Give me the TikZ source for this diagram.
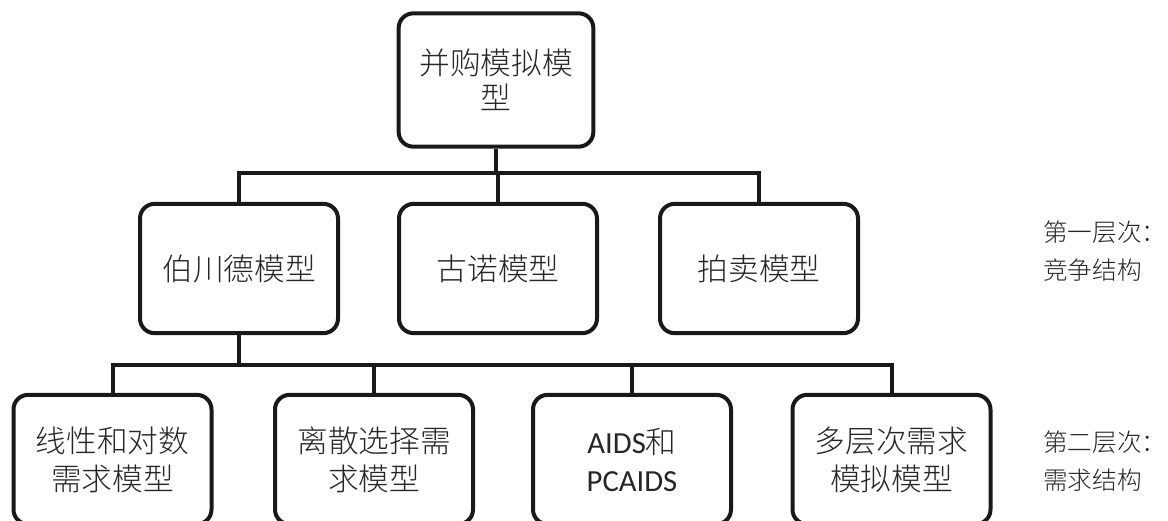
\documentclass[tikz,border=0pt]{standalone}
\usepackage{fontspec}
\setmainfont{Noto Sans CJK SC Light}
\newfontfamily\lat{Carlito}
\begin{document}
\begin{tikzpicture}[x=0.75pt,y=-0.75pt,
  box/.style={draw=black!90,line width=3pt,rounded corners=11pt,align=center,
    minimum width=148.5pt,minimum height=97pt,inner sep=0pt,text=black!85,
    font=\fontsize{23}{28.5}\selectfont},
  conn/.style={draw=black!90,line width=3pt},
  lvl/.style={anchor=west,align=left,inner sep=0pt,text=black!85,
    font=\fontsize{18.5}{28.5}\selectfont}]
\useasboundingbox (0,0) rectangle (1168,521);
\clip (0,0) rectangle (1168,521);
% root
\node[box,minimum width=146pt,minimum height=100pt,font=\fontsize{23}{26}\selectfont] (root) at (496,80) {并购模拟模\\型};
% level 1
\node[box] (b1) at (239,268.5) {伯川德模型};
\node[box] (b2) at (498,268.5) {古诺模型};
\node[box] (b3) at (759,268.5) {拍卖模型};
% level 2
\node[box] (c1) at (112.5,459.5) {线性和对数\\需求模型};
\node[box] (c2) at (374,459.5) {离散选择需\\求模型};
\node[box] (c3) at (632,459.5) {{\lat AIDS}和\\{\lat PCAIDS}};
\node[box] (c4) at (891.5,459.5) {多层次需求\\模拟模型};
% junctions
\coordinate (j1) at (496,173);
\coordinate (j2) at (239,365);
\draw[conn] (root.south) -- (j1);
\draw[conn] (j1) -| (b1.north);
\draw[conn] (j1) -| (b3.north);
\draw[conn] (j1 -| b2.north) -- (b2.north);
\draw[conn] (b1.south) -- (j2);
\draw[conn] (j2) -| (c1.north);
\draw[conn] (j2) -| (c4.north);
\draw[conn] (j2 -| c2.north) -- (c2.north);
\draw[conn] (j2 -| c3.north) -- (c3.north);
% level labels
\node[lvl] (l1) at (1043,251) {第一层次：\\竞争结构};
\node[lvl] (l2) at (1043,461) {第二层次：\\需求结构};
\end{tikzpicture}
\end{document}
